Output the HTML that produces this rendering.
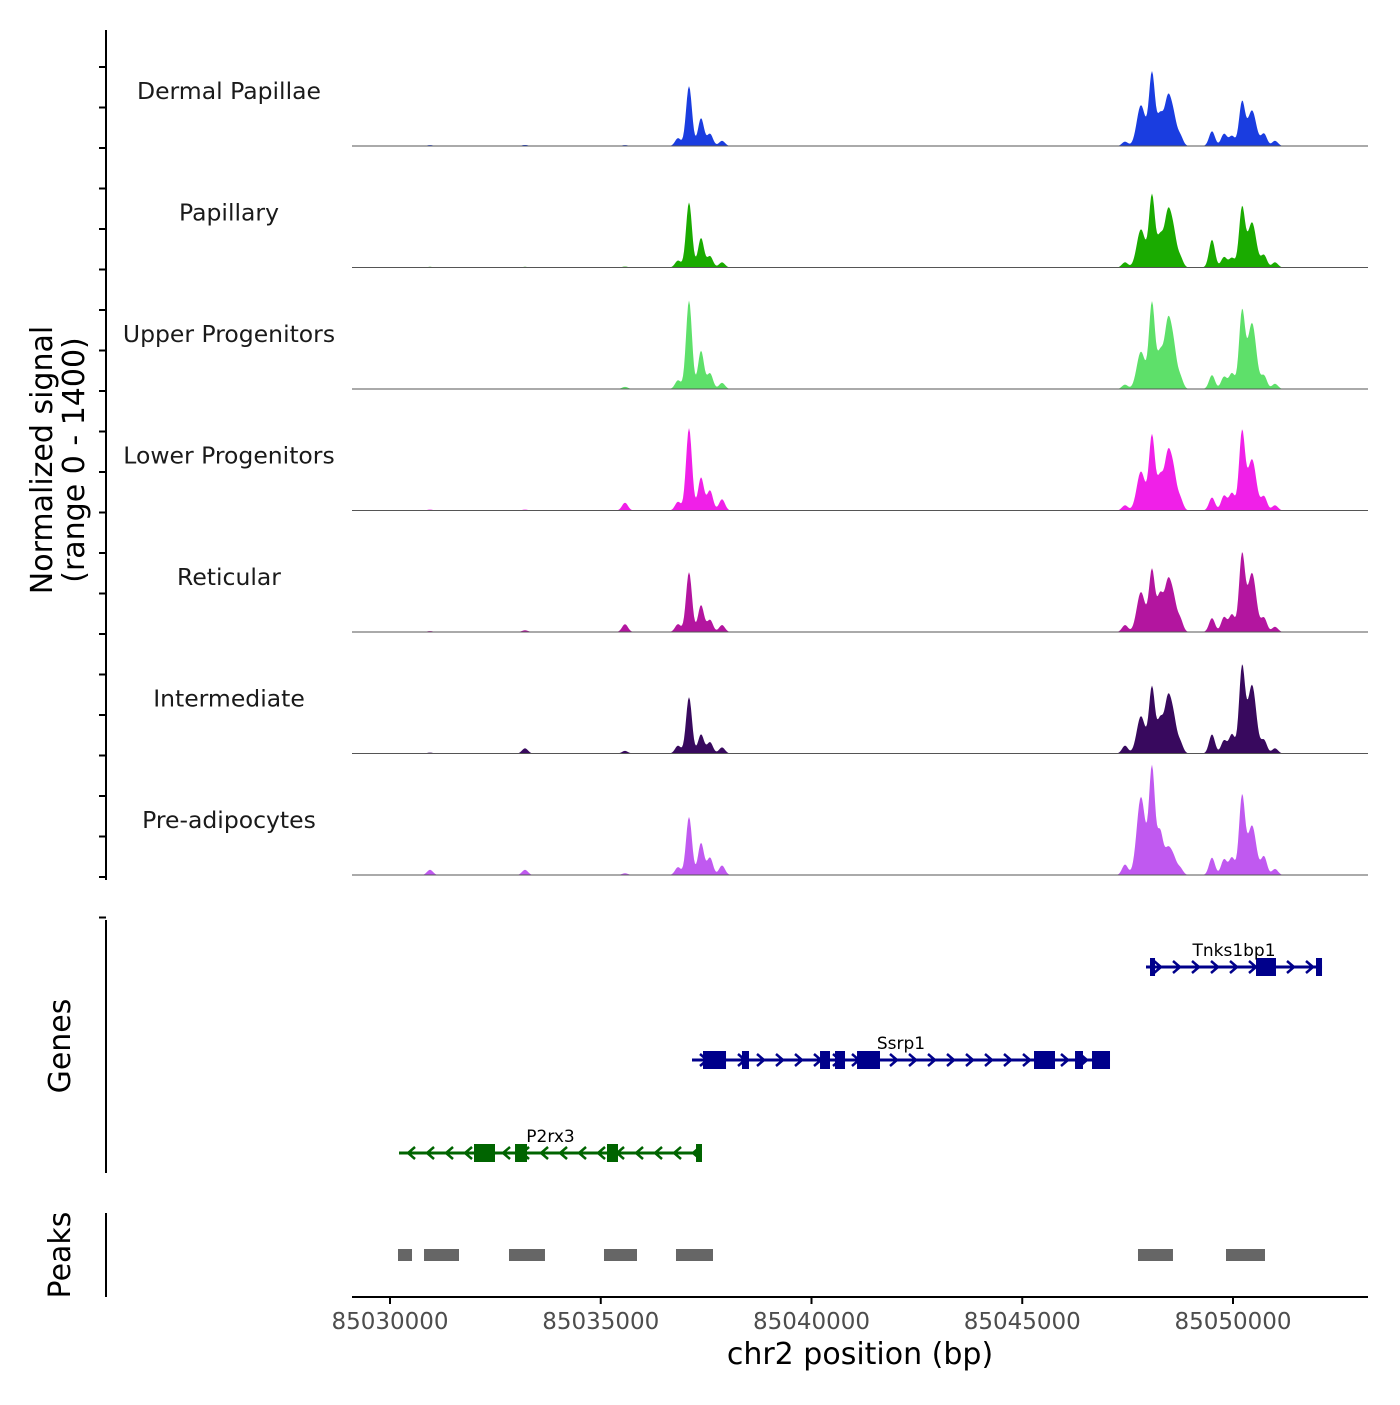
<!DOCTYPE html>
<html><head><meta charset="utf-8"><style>
body{margin:0;background:#fff}
svg text{font-family:"DejaVu Sans","Liberation Sans",sans-serif}
</style></head><body>
<svg id="c" width="1400" height="1400" xmlns="http://www.w3.org/2000/svg"></svg>
<script>
const trackNames=["Dermal Papillae","Papillary","Upper Progenitors","Lower Progenitors","Reticular","Intermediate","Pre-adipocytes"];
const trackColors=["#1a3de0","#1aab00","#5ee06a","#f020e8","#b3159f","#38095e","#c059f0"];
const peakCenters=[85030949,85033203,85035575,85036833,85037094,85037379,85037592,85037877,85047438,85047817,85048078,85048268,85048458,85048598,85048743,85049502,85049787,85049976,85050214,85050451,85050736,85050997];
const trackHeights=[
[10,12,10,90,690,320,140,60,50,470,840,330,560,250,120,170,140,115,500,410,140,60],
[8,8,10,80,750,340,130,60,60,440,830,330,640,300,120,320,120,110,680,520,140,60],
[5,5,25,100,1020,440,180,70,50,430,990,380,780,360,140,160,140,180,880,760,150,60],
[10,10,90,100,950,380,230,130,60,450,860,360,660,330,140,150,170,200,900,590,160,60],
[10,20,90,90,690,310,140,80,80,460,710,400,580,280,150,160,170,200,880,680,160,60],
[10,60,30,90,650,220,130,70,90,430,760,360,640,300,130,220,150,220,980,790,150,60],
[60,60,20,90,670,370,200,110,120,900,1230,480,300,150,80,200,180,200,900,570,210,70]];
const axisTicks=[85030000,85035000,85040000,85045000,85050000];
const peakRegions=[[85030190,85030522],[85030807,85031637],[85032823,85033677],[85035077,85035860],[85036785,85037663],[85047746,85048576],[85049834,85050759]];
const geneNames=["Tnks1bp1","Ssrp1","P2rx3"];
const geneSpans=[[85047936,85052112],[85037165,85047082],[85030214,85037402]];
const geneStrands=[1,1,-1];
const geneExons=[
[[85048031,85048150],[85050546,85051020],[85051969,85052112]],
[[85037426,85037972],[85038351,85038517],[85040202,85040439],[85040558,85040795],[85041080,85041625],[85045279,85045777],[85046252,85046441],[85046655,85047082]],
[[85031993,85032491],[85032966,85033250],[85035148,85035409],[85037260,85037402]]];
const geneColors=["#00008b","#00008b","#006400"];

const svg=document.getElementById('c');
const NS="http://www.w3.org/2000/svg";
function mk(t,a,p){const e=document.createElementNS(NS,t);for(const k in a)e.setAttribute(k,a[k]);(p||svg).appendChild(e);return e;}
const X0=352,X1=1368,BP0=85030000,PX0=390,PXPERBP=843/20000;
const x=bp=>PX0+(bp-BP0)*PXPERBP;
const trackH=121.5, base0=146, ymax=1400;
const y=(i,v)=>base0+i*trackH-v/ymax*trackH;

let l=mk('line',{x1:106,y1:30,x2:106,y2:880,stroke:'#000','stroke-width':2});

for(let k=0;k<22;k++){const yy=67+k*40.5;const t=mk('line',{x1:99,x2:106,y1:yy,y2:yy,stroke:'#000','stroke-width':2});
}
const yt=mk('text',{transform:'translate(52,460) rotate(-90)','text-anchor':'middle','font-size':30});
yt.textContent='Normalized signal';

const yt2=mk('text',{transform:'translate(84,460) rotate(-90)','text-anchor':'middle','font-size':30});
yt2.textContent='(range 0 - 1400)';


const sig=70;
trackHeights.forEach((hs,i)=>{
  const g=mk('g',{});
  
  
  let d='M'+X0+','+y(i,0);
  for(let px=X0;px<=X1;px+=1){
    const bp=BP0+(px-PX0)/PXPERBP;let v=0;
    peakCenters.forEach((c,j)=>{const s=(j==9||j==19)?100:(j==12?85:sig);v+=hs[j]*Math.exp(-((bp-c)**2)/(2*s*s));});
    d+=' L'+px+','+y(i,v).toFixed(2);
  }
  d+=' L'+X1+','+y(i,0)+' Z';
  const p=mk('path',{d:d,fill:trackColors[i]},g);
  
  const b=mk('line',{x1:X0,x2:X1,y1:y(i,0),y2:y(i,0),stroke:'#555','stroke-width':1},g);
  
  const t=mk('text',{x:229,y:y(i,0)-47,'text-anchor':'middle','font-size':23.5,fill:'#1a1a1a'},g);
  t.textContent=trackNames[i];
  
});

l=mk('line',{x1:106,y1:920,x2:106,y2:1173,stroke:'#000','stroke-width':2});

const gt=mk('text',{transform:'translate(70,1046) rotate(-90)','text-anchor':'middle','font-size':30});
gt.textContent='Genes';
const geneY=[967,1060,1153];
geneNames.forEach((n,i)=>{
  const g=mk('g',{});
  
  const c=geneColors[i],yy=geneY[i],a=x(geneSpans[i][0]),b=x(geneSpans[i][1]);
  mk('line',{x1:a,x2:b,y1:yy,y2:yy,stroke:c,'stroke-width':3},g);
  const s=geneStrands[i];
  for(let px=a+12;px<b-4;px+=19){mk('polyline',{points:`${px-4*s},${yy-6} ${px+3*s},${yy} ${px-4*s},${yy+6}`,fill:'none',stroke:c,'stroke-width':2.5},g);}
  geneExons[i].forEach(e=>{const r=mk('rect',{x:x(e[0]),y:yy-9,width:Math.max(4,x(e[1])-x(e[0])),height:18,fill:c},g);
    });
  const t=mk('text',{x:(a+b)/2,y:yy-11,'text-anchor':'middle','font-size':17,fill:'#000'},g);
  t.textContent=n;
});

l=mk('line',{x1:106,y1:1213,x2:106,y2:1297,stroke:'#000','stroke-width':2});

const pt=mk('text',{transform:'translate(70,1255) rotate(-90)','text-anchor':'middle','font-size':30});
pt.textContent='Peaks';
peakRegions.forEach(r=>{const e=mk('rect',{x:x(r[0]),y:1249,width:x(r[1])-x(r[0]),height:12,fill:'#666'});
  });

l=mk('line',{x1:X0,x2:X1,y1:1297,y2:1297,stroke:'#000','stroke-width':2});

axisTicks.forEach(v=>{const t=mk('line',{x1:x(v),x2:x(v),y1:1297,y2:1304,stroke:'#000','stroke-width':2});
  
  const lb=mk('text',{x:x(v),y:1329,'text-anchor':'middle','font-size':23,fill:'#4d4d4d'});
  lb.textContent=String(v);});
const xt=mk('text',{x:860,y:1364,'text-anchor':'middle','font-size':30});
xt.textContent='chr2 position (bp)';
</script>
</body></html>
